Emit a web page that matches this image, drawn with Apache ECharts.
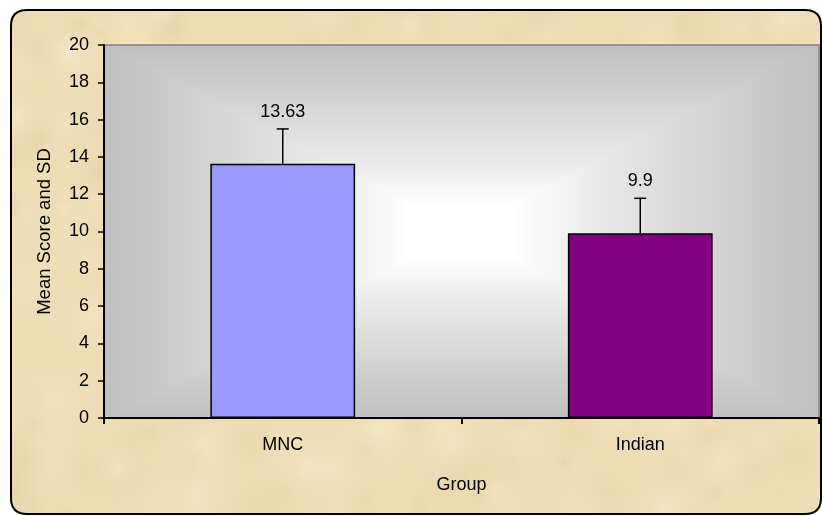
<!DOCTYPE html>
<html>
<head>
<meta charset="utf-8">
<title>Mean Score and SD</title>
<script src="https://cdn.jsdelivr.net/npm/echarts@6/dist/echarts.min.js"></script>
<style>
  html, body { margin: 0; padding: 0; background: #ffffff; }
  #chart { width: 822px; height: 516px; }
</style>
</head>
<body>
<div id="chart"></div>
<script>
// data
var groups = ['MNC', 'Indian'];
var meanScores = [13.63, 9.9];
var sdValues = [1.87, 1.88];
var barColors = ['#9999FF', '#800080'];
var yTicks = { min: 0, max: 20, step: 2 };

var W = 822, H = 516;
var grid = { left: 104, top: 45, right: 3, bottom: 98 };

// seeded generator, only for the paper texture
var seed = 7;
function rnd() {
    seed = (seed * 16807) % 2147483647;
    return (seed - 1) / 2147483646;
}

// paper frame + plot-area gradient painted once in a canvas
function makeBackground() {
    var c = document.createElement('canvas');
    c.width = W; c.height = H;
    var g = c.getContext('2d');
    g.fillStyle = '#ffffff';
    g.fillRect(0, 0, W, H);

    // rounded paper frame
    var fx = 11, fy = 10, fw = 810, fh = 504, r = 16;
    function framePath() {
        g.beginPath();
        g.moveTo(fx + r, fy);
        g.lineTo(fx + fw - r, fy);
        g.quadraticCurveTo(fx + fw, fy, fx + fw, fy + r);
        g.lineTo(fx + fw, fy + fh - r);
        g.quadraticCurveTo(fx + fw, fy + fh, fx + fw - r, fy + fh);
        g.lineTo(fx + r, fy + fh);
        g.quadraticCurveTo(fx, fy + fh, fx, fy + fh - r);
        g.lineTo(fx, fy + r);
        g.quadraticCurveTo(fx, fy, fx + r, fy);
        g.closePath();
    }
    g.save();
    framePath();
    g.clip();
    g.fillStyle = '#EFDDB6';
    g.fillRect(0, 0, W, H);
    var tones = ['rgba(250,238,210,0.35)', 'rgba(226,204,158,0.30)', 'rgba(244,228,192,0.35)', 'rgba(218,196,150,0.22)'];
    for (var i = 0; i < 420; i++) {
        var x = rnd() * W, y = rnd() * H, rad = 8 + rnd() * 40;
        var rg = g.createRadialGradient(x, y, 0, x, y, rad);
        rg.addColorStop(0, tones[i % tones.length]);
        rg.addColorStop(1, 'rgba(239,221,182,0)');
        g.fillStyle = rg;
        g.fillRect(x - rad, y - rad, rad * 2, rad * 2);
    }
    g.restore();
    framePath();
    g.lineWidth = 2;
    g.strokeStyle = '#000000';
    g.stroke();

    // rectangular "from centre" gradient of the plot area, pixel by pixel
    var px = grid.left, py = grid.top;
    var pw = W - grid.left - grid.right, ph = H - grid.top - grid.bottom;
    var img = g.createImageData(pw, ph);
    for (var yy = 0; yy < ph; yy++) {
        for (var xx = 0; xx < pw; xx++) {
            var t = Math.max(Math.abs(xx + 0.5 - pw / 2) / (pw / 2), Math.abs(yy + 0.5 - ph / 2) / (ph / 2));
            var v = t < 0.15 ? 255 : 255 - (255 - 192) * Math.pow((t - 0.15) / 0.85, 0.85);
            var k = (yy * pw + xx) * 4;
            img.data[k] = img.data[k + 1] = img.data[k + 2] = Math.round(v);
            img.data[k + 3] = 255;
        }
    }
    g.putImageData(img, px, py);
    g.strokeStyle = '#808080';
    g.lineWidth = 1.5;
    g.strokeRect(px, py, pw, ph);
    return c;
}

var myChart = echarts.init(document.getElementById('chart'));

var font = 'Liberation Sans, Arial, sans-serif';

var option = {
    animation: false,
    graphic: [{
        type: 'image',
        left: 0, top: 0, z: -100, silent: true,
        style: { image: makeBackground(), x: 0, y: 0, width: W, height: H }
    }],
    grid: grid,
    xAxis: {
        type: 'category',
        data: groups,
        name: 'Group',
        nameLocation: 'middle',
        nameGap: 58,
        nameTextStyle: { color: '#000', fontSize: 18, fontFamily: font },
        axisLine: { lineStyle: { color: '#000', width: 2 } },
        axisTick: { show: true, length: 6, lineStyle: { color: '#000', width: 2 } },
        axisLabel: { color: '#000', fontSize: 18, fontFamily: font, margin: 18 }
    },
    yAxis: {
        type: 'value',
        min: yTicks.min,
        max: yTicks.max,
        interval: yTicks.step,
        name: 'Mean Score and SD',
        nameLocation: 'middle',
        nameGap: 50,
        nameTextStyle: { color: '#000', fontSize: 18.5, fontFamily: font },
        splitLine: { show: false },
        axisLine: { show: true, lineStyle: { color: '#000', width: 2 } },
        axisTick: { show: true, length: 6, lineStyle: { color: '#000', width: 1.5 } },
        axisLabel: { color: '#000', fontSize: 18, fontFamily: font, margin: 15 }
    },
    series: [{
        type: 'bar',
        barWidth: '40.5%',
        data: meanScores.map(function (v, i) {
            return { value: v, itemStyle: { color: barColors[i] } };
        }),
        itemStyle: { borderColor: '#000', borderWidth: 1.5 }
    }, {
        // upper SD whisker plus the mean label above it
        type: 'custom',
        z: 5,
        data: meanScores.map(function (v, i) { return [i, v, v + sdValues[i]]; }),
        renderItem: function (params, api) {
            var base = api.coord([api.value(0), api.value(1)]);
            var top = api.coord([api.value(0), api.value(2)]);
            var cap = 6;
            var st = { stroke: '#000', lineWidth: 1.5 };
            return {
                type: 'group',
                children: [{
                    type: 'line',
                    shape: { x1: base[0], y1: base[1], x2: top[0], y2: top[1] },
                    style: st
                }, {
                    type: 'line',
                    shape: { x1: top[0] - cap, y1: top[1], x2: top[0] + cap, y2: top[1] },
                    style: st
                }, {
                    type: 'text',
                    x: top[0], y: top[1] - 8,
                    style: {
                        text: String(api.value(1)),
                        fill: '#000',
                        fontSize: 18,
                        fontFamily: font,
                        align: 'center',
                        verticalAlign: 'bottom'
                    }
                }]
            };
        }
    }]
};

myChart.setOption(option);
</script>
</body>
</html>
